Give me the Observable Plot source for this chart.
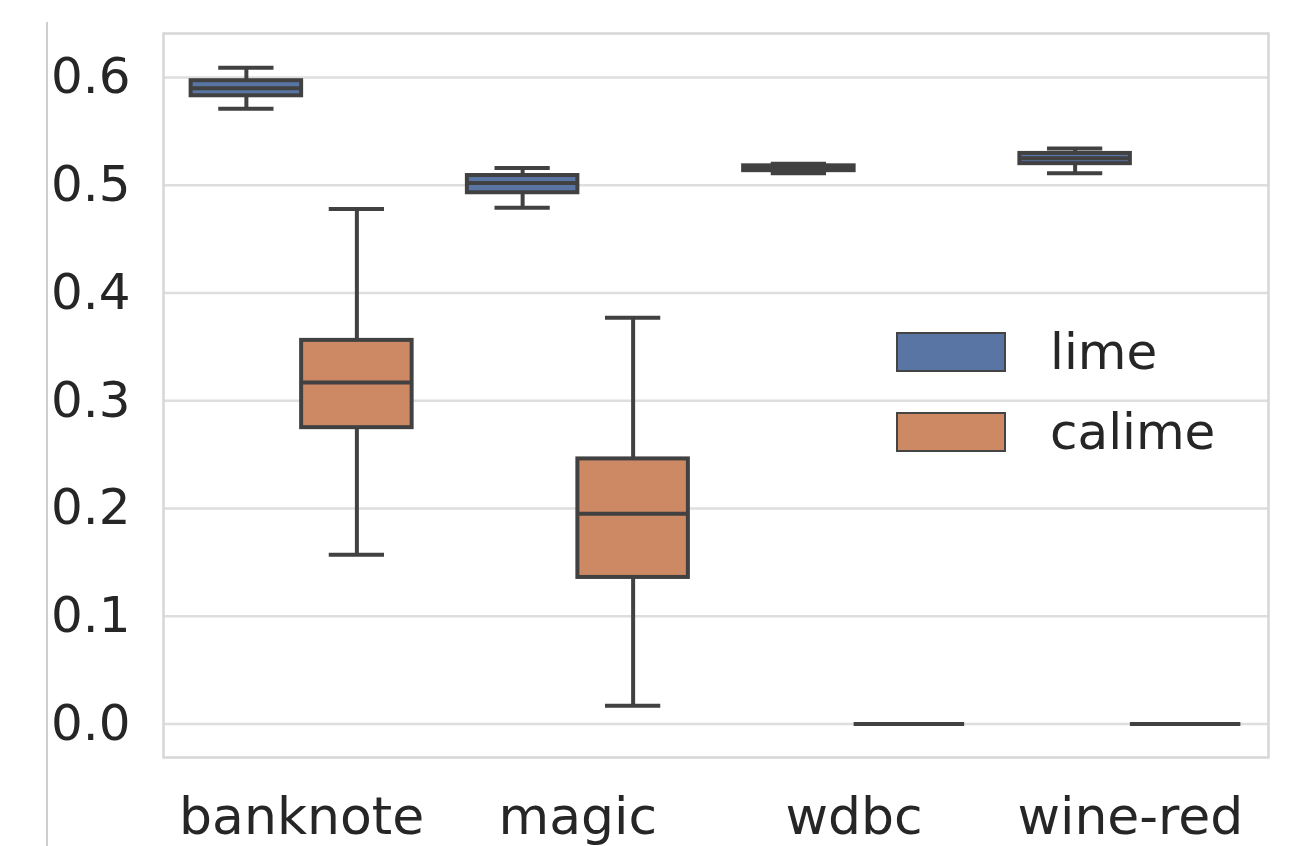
<!DOCTYPE html>
<html>
<head>
<meta charset="utf-8">
<script src="https://cdn.jsdelivr.net/npm/d3@7"></script>
<script src="https://cdn.jsdelivr.net/npm/@observablehq/plot@0.6"></script>
<style>
  html, body { margin: 0; padding: 0; background: #ffffff; }
  #wrap { position: relative; width: 1311px; height: 846px; overflow: hidden; font-family: "DejaVu Sans", sans-serif; }
  #edge { position: absolute; left: 46px; top: 22px; width: 2px; height: 830px; background: #cfcfcf; }
  .leg { position: absolute; display: flex; align-items: center; color: #262626; font-size: 50px; }
  .sw { width: 106px; height: 36px; border: 2.5px solid #444444; margin-right: 44px; box-sizing: content-box; }
  #chart svg [aria-label="x-axis tick label"] { font-size: 52px; }
</style>
</head>
<body>
<div id="wrap">
  <div id="chart"></div>
  <div id="edge"></div>
  <div id="legend"></div>
</div>
<script>
// ---- data ----
const categories = ["banknote", "magic", "wdbc", "wine-red"];
const methods = ["lime", "calime"];
const methodColors = ["#5875a4", "#cc8963"];

const limeWhisLo = [0.571, 0.479, 0.511, 0.511];
const limeQ1     = [0.583, 0.493, 0.5135, 0.520];
const limeMed    = [0.590, 0.502, 0.516, 0.525];
const limeQ3     = [0.597, 0.509, 0.518, 0.5295];
const limeWhisHi = [0.609, 0.516, 0.520, 0.534];

const calimeWhisLo = [0.157, 0.017, 0.0, 0.0];
const calimeQ1     = [0.275, 0.136, 0.0, 0.0];
const calimeMed    = [0.317, 0.195, 0.0, 0.0];
const calimeQ3     = [0.356, 0.246, 0.0, 0.0];
const calimeWhisHi = [0.478, 0.377, 0.0, 0.0];

const yTicks = [0.0, 0.1, 0.2, 0.3, 0.4, 0.5, 0.6];

// ---- table built from the arrays ----
const stats = {
  lime:   {lo: limeWhisLo, q1: limeQ1, med: limeMed, q3: limeQ3, hi: limeWhisHi},
  calime: {lo: calimeWhisLo, q1: calimeQ1, med: calimeMed, q3: calimeQ3, hi: calimeWhisHi}
};
const boxWidth = 0.4;           // seaborn: 0.8 per category split in two hues
const rows = [];
categories.forEach((cat, i) => {
  methods.forEach((m, j) => {
    const pos = i + (j - 0.5) * boxWidth;
    const s = stats[m];
    rows.push({
      cat, method: m, pos,
      x1: pos - boxWidth / 2, x2: pos + boxWidth / 2,
      c1: pos - boxWidth / 4, c2: pos + boxWidth / 4,
      lo: s.lo[i], q1: s.q1[i], med: s.med[i], q3: s.q3[i], hi: s.hi[i]
    });
  });
});

const lineColor = "#414141";
const lw = 4;

const chart = Plot.plot({
  width: 1311,
  height: 846,
  marginLeft: 163,
  marginRight: 43,
  marginTop: 33,
  marginBottom: 89,
  style: {fontSize: "50px", fontFamily: "DejaVu Sans, sans-serif", color: "#262626", background: "transparent"},
  x: {domain: [-0.5, 3.5], ticks: [0, 1, 2, 3], tickFormat: i => categories[i], tickSize: 0, tickPadding: 40, label: null},
  y: {domain: [-0.0311, 0.6408], ticks: yTicks, tickFormat: d3.format(".1f"), tickSize: 0, tickPadding: 33, label: null},
  color: {domain: methods, range: methodColors},
  marks: [
    Plot.ruleY(yTicks, {stroke: "#dedede", strokeWidth: 2.5}),
    Plot.frame({stroke: "#d6d6d6", strokeWidth: 2.5}),
    // whiskers
    Plot.ruleX(rows, {x: "pos", y1: "q3", y2: "hi", stroke: lineColor, strokeWidth: lw}),
    Plot.ruleX(rows, {x: "pos", y1: "lo", y2: "q1", stroke: lineColor, strokeWidth: lw}),
    // boxes
    Plot.rect(rows, {x1: "x1", x2: "x2", y1: "q1", y2: "q3", fill: "method", stroke: lineColor, strokeWidth: lw}),
    // medians
    Plot.ruleY(rows, {y: "med", x1: "x1", x2: "x2", stroke: lineColor, strokeWidth: lw}),
    // caps
    Plot.ruleY(rows, {y: "hi", x1: "c1", x2: "c2", stroke: lineColor, strokeWidth: lw}),
    Plot.ruleY(rows, {y: "lo", x1: "c1", x2: "c2", stroke: lineColor, strokeWidth: lw})
  ]
});
document.getElementById("chart").appendChild(chart);

// ---- legend (inside the plot area, no frame) ----
const legend = document.getElementById("legend");
const legTops = [331, 411];
methods.forEach((m, j) => {
  const d = document.createElement("div");
  d.className = "leg";
  d.style.left = "896px";
  d.style.top = legTops[j] + "px";
  d.style.height = "42px";
  const sw = document.createElement("div");
  sw.className = "sw";
  sw.style.background = methodColors[j];
  const t = document.createElement("span");
  t.textContent = m;
  d.appendChild(sw);
  d.appendChild(t);
  legend.appendChild(d);
});
</script>
</body>
</html>
